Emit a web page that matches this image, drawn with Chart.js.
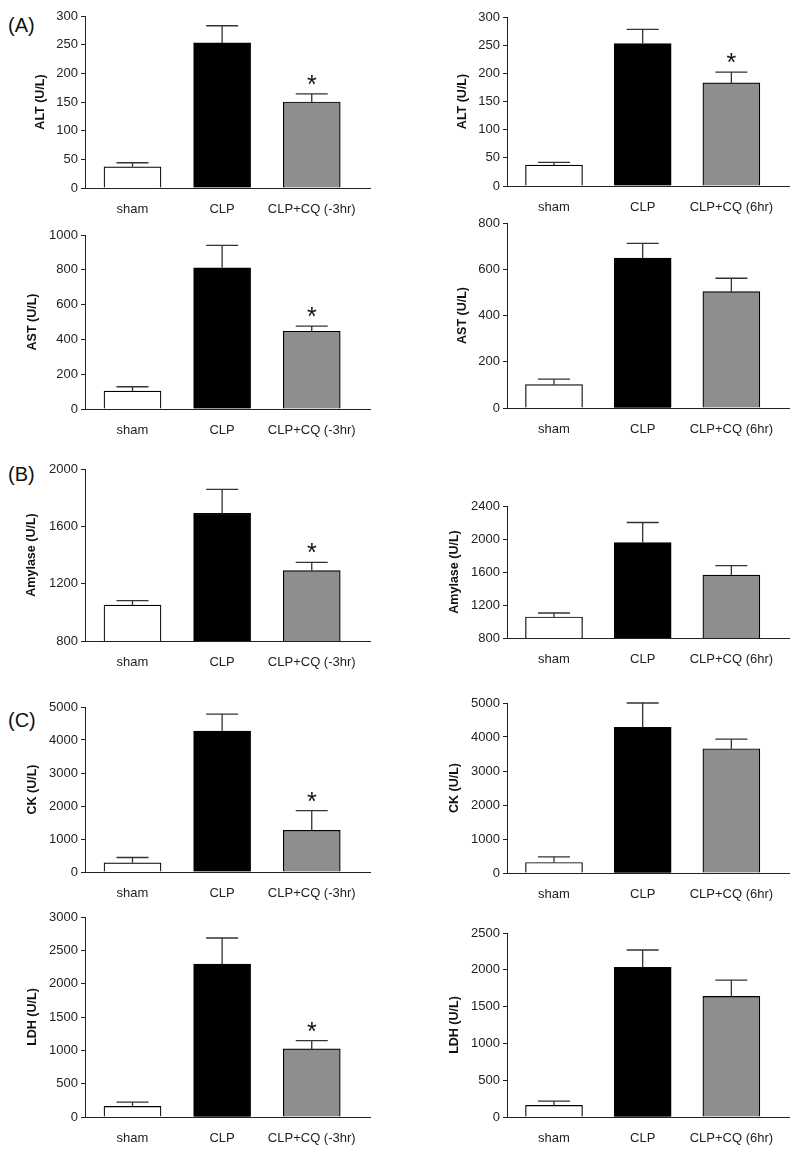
<!DOCTYPE html>
<html>
<head>
<meta charset="utf-8">
<script src="https://cdn.jsdelivr.net/npm/chart.js@4.4.0/dist/chart.umd.min.js"></script>
<style>
  body { margin: 0; background: #fff; }
  #fig { position: relative; width: 800px; height: 1152px; font-family: "Liberation Sans", Arial, sans-serif; }
  .panel { position: absolute; }
  .tag { position: absolute; left: 8px; font-size: 20px; color: #111; line-height: 1; }
</style>
</head>
<body>
<div id="fig">
  <div class="tag" style="top:15px">(A)</div>
  <div class="tag" style="top:464px">(B)</div>
  <div class="tag" style="top:710px">(C)</div>
</div>
<script>
// groups
const groupsPre = ['sham', 'CLP', 'CLP+CQ (-3hr)'];
const groupsPost = ['sham', 'CLP', 'CLP+CQ (6hr)'];
const barFills = ['#ffffff', '#000000', '#8e8e8e'];

// ALT
const altPre = [37, 253, 150];
const altPreSem = [7, 30, 14];
const altPost = [37, 253, 183];
const altPostSem = [5, 25, 19];

// AST
const astPre = [103, 812, 447];
const astPreSem = [25, 128, 29];
const astPost = [101, 648, 503];
const astPostSem = [24, 64, 58];

// Amylase
const amyPre = [1051, 1691, 1291];
const amyPreSem = [30, 167, 58];
const amyPost = [1055, 1957, 1563];
const amyPostSem = [48, 243, 114];

// CK
const ckPre = [280, 4270, 1265];
const ckPreSem = [160, 517, 595];
const ckPost = [310, 4281, 3655];
const ckPostSem = [165, 719, 283];

// LDH
const ldhPre = [159, 2292, 1021];
const ldhPreSem = [63, 393, 125];
const ldhPost = [158, 2033, 1639];
const ldhPostSem = [58, 236, 222];

// significance marks (*)
const starAll = [false, false, true];
const starNone = [false, false, false];

Chart.defaults.font.family = '"Liberation Sans", Arial, sans-serif';

// error bars + asterisks
const errBars = {
  id: 'errBars',
  afterDatasetsDraw(chart, args, opts) {
    const ctx = chart.ctx;
    const x = chart.scales.x, y = chart.scales.y;
    const pts = chart.data.datasets[0].data;
    ctx.save();
    ctx.strokeStyle = '#333';
    ctx.lineWidth = 1.3;
    pts.forEach((pt, i) => {
      const px = x.getPixelForValue(pt.x);
      const y0 = y.getPixelForValue(pt.y);
      const y1 = y.getPixelForValue(pt.y + opts.sem[i]);
      ctx.beginPath();
      ctx.moveTo(px, y0);
      ctx.lineTo(px, y1);
      ctx.moveTo(px - 16, y1);
      ctx.lineTo(px + 16, y1);
      ctx.stroke();
      if (opts.stars[i]) {
        ctx.fillStyle = '#111';
        ctx.font = '25px "Liberation Sans", Arial, sans-serif';
        ctx.textAlign = 'center';
        ctx.textBaseline = 'alphabetic';
        ctx.fillText('*', px, y1 - 1);
      }
    });
    ctx.restore();
  }
};

const panels = [
  { labels: groupsPre, values: altPre, sem: altPreSem, stars: starAll, title: 'ALT (U/L)', min: 0, max: 300, step: 50, col: 0, top: 16, bottom: 188, titleX: 41 },
  { labels: groupsPost, values: altPost, sem: altPostSem, stars: starAll, title: 'ALT (U/L)', min: 0, max: 300, step: 50, col: 1, top: 17, bottom: 186, titleX: 463 },
  { labels: groupsPre, values: astPre, sem: astPreSem, stars: starAll, title: 'AST (U/L)', min: 0, max: 1000, step: 200, col: 0, top: 235, bottom: 409, titleX: 33 },
  { labels: groupsPost, values: astPost, sem: astPostSem, stars: starNone, title: 'AST (U/L)', min: 0, max: 800, step: 200, col: 1, top: 223, bottom: 408, titleX: 463 },
  { labels: groupsPre, values: amyPre, sem: amyPreSem, stars: starAll, title: 'Amylase (U/L)', min: 800, max: 2000, step: 400, col: 0, top: 469, bottom: 641, titleX: 32 },
  { labels: groupsPost, values: amyPost, sem: amyPostSem, stars: starNone, title: 'Amylase (U/L)', min: 800, max: 2400, step: 400, col: 1, top: 506, bottom: 638, titleX: 455 },
  { labels: groupsPre, values: ckPre, sem: ckPreSem, stars: starAll, title: 'CK (U/L)', min: 0, max: 5000, step: 1000, col: 0, top: 707, bottom: 872, titleX: 33 },
  { labels: groupsPost, values: ckPost, sem: ckPostSem, stars: starNone, title: 'CK (U/L)', min: 0, max: 5000, step: 1000, col: 1, top: 703, bottom: 873, titleX: 455 },
  { labels: groupsPre, values: ldhPre, sem: ldhPreSem, stars: starAll, title: 'LDH (U/L)', min: 0, max: 3000, step: 500, col: 0, top: 917, bottom: 1117, titleX: 33 },
  { labels: groupsPost, values: ldhPost, sem: ldhPostSem, stars: starNone, title: 'LDH (U/L)', min: 0, max: 2500, step: 500, col: 1, top: 933, bottom: 1117, titleX: 455 }
];

const fig = document.getElementById('fig');

function buildPanel(p) {
  const colLeft = p.col * 400;
  const axisX = p.col ? 507 : 85;
  const axisEnd = p.col ? 789 : 370;
  const padTop = 14;
  const xAxisH = 34;
  const canvasTop = p.top - padTop;
  const canvasH = p.bottom - p.top + padTop + xAxisH + 2;
  const titleLeft = p.titleX - 7.5;

  const wrap = document.createElement('div');
  wrap.className = 'panel';
  wrap.style.left = colLeft + 'px';
  wrap.style.top = canvasTop + 'px';
  wrap.style.width = '400px';
  wrap.style.height = canvasH + 'px';
  const cv = document.createElement('canvas');
  wrap.appendChild(cv);
  fig.appendChild(wrap);

  new Chart(cv, {
    type: 'bar',
    data: {
      datasets: [{
        data: p.values.map((v, i) => ({ x: i, y: v })),
        backgroundColor: barFills,
        borderColor: '#000',
        borderWidth: 1.2,
        barThickness: 57
      }]
    },
    options: {
      responsive: true,
      maintainAspectRatio: false,
      animation: false,
      layout: { padding: { left: titleLeft - colLeft, right: colLeft + 400 - axisEnd, top: padTop, bottom: 2 } },
      plugins: {
        legend: { display: false },
        tooltip: { enabled: false },
        errBars: { sem: p.sem, stars: p.stars }
      },
      scales: {
        x: {
          type: 'linear',
          min: -0.53,
          max: 2.65,
          offset: false,
          grid: { display: false },
          border: { color: '#222', width: 1 },
          afterBuildTicks: s => { s.ticks = p.labels.map((_, i) => ({ value: i })); },
          ticks: { callback: v => p.labels[v], color: '#222', font: { size: 13 }, padding: 6, maxRotation: 0, autoSkip: false },
          afterFit: s => { s.height = xAxisH; }
        },
        y: {
          min: p.min,
          max: p.max,
          ticks: { stepSize: p.step, callback: v => String(v), color: '#222', font: { size: 13 }, padding: 3 },
          grid: { drawOnChartArea: false, tickLength: 4, color: '#222' },
          border: { color: '#222', width: 1 },
          title: { display: true, text: p.title, color: '#111', font: { size: 12.5, weight: 'bold' }, padding: 0 },
          afterFit: s => { s.width = axisX - titleLeft; }
        }
      }
    },
    plugins: [errBars]
  });
}

panels.forEach(buildPanel);
</script>
</body>
</html>
